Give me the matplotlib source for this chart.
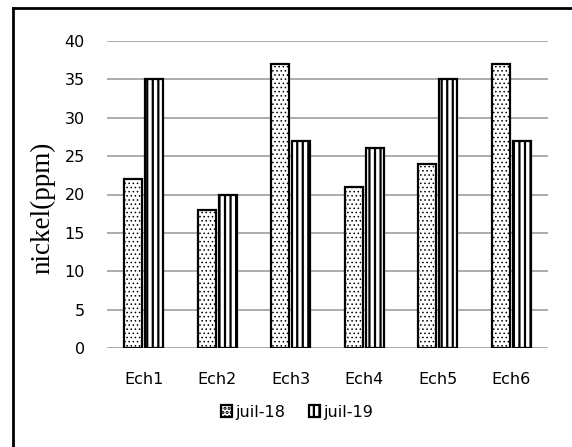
import matplotlib
matplotlib.use("Agg")
import matplotlib.pyplot as plt
import numpy as np
from matplotlib.lines import Line2D

categories = ["Ech1", "Ech2", "Ech3", "Ech4", "Ech5", "Ech6"]
juil18 = [22, 18, 37, 21, 24, 37]
juil19 = [35, 20, 27, 26, 35, 27]
series_labels = ["juil-18", "juil-19"]
yticks = [0, 5, 10, 15, 20, 25, 30, 35, 40]

W, H = 572, 447
fig = plt.figure(figsize=(W / 100, H / 100), dpi=100)

ax = fig.add_axes([107 / W, 1 - 348 / H, (548 - 107) / W, (348 - 41) / H])
x = np.arange(len(categories))
bw = 0.245
gap = 0.045
plt.rcParams['hatch.linewidth'] = 0.6
ax.bar(x - (bw + gap) / 2, juil18, bw, color="white", edgecolor="black",
       hatch="....", linewidth=1.6, label=series_labels[0], zorder=3)
plt.rcParams['hatch.linewidth'] = 1.6
ax.bar(x + (bw + gap) / 2, juil19, bw, color="white", edgecolor="black",
       hatch="|||", linewidth=1.6, label=series_labels[1], zorder=3)

ax.set_xlim(-0.5, len(categories) - 0.5)
ax.set_ylim(0, 40)
ax.set_yticks(yticks)
ax.set_xticks(x)
ax.set_xticklabels(categories)
ax.tick_params(axis="both", length=0, labelsize=11.5)
ax.tick_params(axis="y", pad=16)
ax.tick_params(axis="x", pad=17)
ax.yaxis.grid(True, color="#a6a6a6", linewidth=1.3, zorder=0)
ax.set_axisbelow(True)
for s in ax.spines.values():
    s.set_visible(False)

fig.text(43 / W, 1 - 208 / H, "nickel(ppm)", rotation=90, ha="center", va="center",
         fontsize=19.5, family="Liberation Serif")

leg = fig.legend(loc="center", bbox_to_anchor=(297 / W, 1 - 412 / H), ncol=2,
                 frameon=False, fontsize=11.5, handlelength=0.7, handleheight=0.7,
                 handletextpad=0.2, columnspacing=1.5)

fig.add_artist(Line2D([13 / W, 13 / W], [0, 1 - 8 / H], transform=fig.transFigure,
                      color="black", linewidth=2))
fig.add_artist(Line2D([13 / W, 1], [1 - 8 / H, 1 - 8 / H], transform=fig.transFigure,
                      color="black", linewidth=2))

fig.savefig("out.png", dpi=100)
